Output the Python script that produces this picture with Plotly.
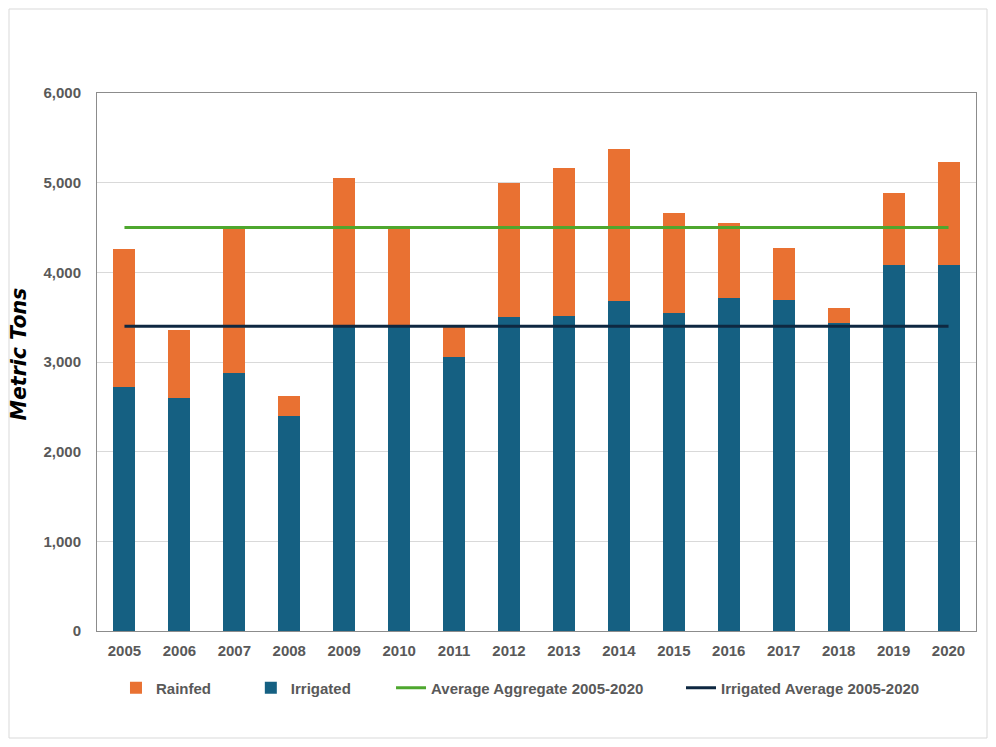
import plotly.graph_objects as go

years = ['2005', '2006', '2007', '2008', '2009', '2010', '2011', '2012',
         '2013', '2014', '2015', '2016', '2017', '2018', '2019', '2020']

# irrigated production (bottom of stack)
irrigated = [2720, 2600, 2880, 2400, 3415, 3415, 3060, 3505,
             3515, 3685, 3550, 3715, 3695, 3435, 4085, 4085]
# total production (top of stack)
total = [4265, 3360, 4490, 2620, 5055, 4520, 3385, 5000,
         5165, 5370, 4665, 4555, 4275, 3605, 4890, 5235]
rainfed = [t - i for t, i in zip(total, irrigated)]

avg_aggregate = 4500
avg_irrigated = 3400

font_fam = 'Liberation Sans, Arial, sans-serif'
grey = '#595959'

fig = go.Figure()

fig.add_trace(go.Bar(
    x=years, y=irrigated, name='Irrigated',
    marker=dict(color='#156082', line=dict(width=0)),
    legend='legend2'
))
fig.add_trace(go.Bar(
    x=years, y=rainfed, name='Rainfed',
    marker=dict(color='#E97132', line=dict(width=0)),
    legend='legend'
))
fig.add_trace(go.Scatter(
    x=years, y=[avg_aggregate] * len(years), mode='lines',
    name='Average Aggregate 2005-2020',
    line=dict(color='#4EA72E', width=3),
    legend='legend3'
))
fig.add_trace(go.Scatter(
    x=years, y=[avg_irrigated] * len(years), mode='lines',
    name='Irrigated Average 2005-2020',
    line=dict(color='#0E2841', width=3),
    legend='legend4'
))

# page body has an 8px margin -> figure is 980x731, plot area 89..968 x 85..623
W, H = 980, 731
ml, mr, mt, mb = 89, 12, 85, 108
pw = W - ml - mr
ph = H - mt - mb

legend_style = dict(
    orientation='h', xanchor='left', yanchor='middle', y=-0.106,
    font=dict(family=font_fam, size=15, color=grey, weight='bold'),
    bgcolor='rgba(0,0,0,0)', itemwidth=30,
)

fig.update_layout(
    width=W, height=H,
    margin=dict(l=ml, r=mr, t=mt, b=mb),
    barmode='stack',
    bargap=0.6,
    plot_bgcolor='white',
    paper_bgcolor='white',
    font=dict(family=font_fam, size=15, color=grey),
    showlegend=True,
    legend=dict(legend_style, x=0.0216),
    legend2=dict(legend_style, x=0.175),
    legend3=dict(legend_style, x=0.3345),
    legend4=dict(legend_style, x=0.6644),
    xaxis=dict(
        showline=True, linecolor='#8c8c8c', linewidth=1, mirror=True,
        ticks='', tickfont=dict(size=15, weight='bold', color=grey),
        ticklabelstandoff=6,
        showgrid=False, automargin=False,
    ),
    yaxis=dict(
        range=[0, 6000], dtick=1000, tickformat=',',
        showline=True, linecolor='#8c8c8c', linewidth=1, mirror=True,
        showgrid=True, gridcolor='#d9d9d9', gridwidth=1,
        ticks='', ticklen=0, automargin=False,
        ticklabelstandoff=12,
        tickfont=dict(size=15, weight='bold', color=grey),
        zeroline=False,
    ),
    annotations=[dict(
        text='<b><i>Metric Tons</i></b>', textangle=-90,
        xref='paper', yref='paper', x=-0.0893, y=0.515,
        xanchor='center', yanchor='middle', showarrow=False,
        font=dict(family='DejaVu Sans, sans-serif', size=20.5, color='black'),
    )],
    shapes=[dict(
        type='rect', xref='paper', yref='paper',
        x0=-(ml - 1) / pw, x1=1 + (mr - 1) / pw,
        y0=-(mb - 1) / ph, y1=1 + (mt - 1) / ph,
        line=dict(color='#d9d9d9', width=1), fillcolor='rgba(0,0,0,0)',
        layer='below'
    )],
)

fig.write_html('out.html')
